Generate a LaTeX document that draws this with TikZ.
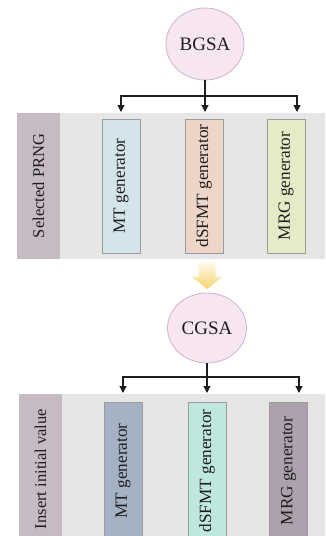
\documentclass[tikz,border=0pt]{standalone}
\usepackage{fontspec}
\setmainfont{Liberation Serif}
\usetikzlibrary{shapes.geometric,arrows.meta}
\definecolor{bandgray}{HTML}{E6E6E6}
\definecolor{labfill}{HTML}{C6BAC3}
\definecolor{circfill}{HTML}{F7E6F2}
\definecolor{circline}{HTML}{C9B8C4}
\definecolor{boxline}{HTML}{9C9C9C}
\definecolor{mtA}{HTML}{D3E5EB}
\definecolor{dsA}{HTML}{EDD5C8}
\definecolor{mrgA}{HTML}{E4EBC6}
\definecolor{mtB}{HTML}{A4B2C4}
\definecolor{dsB}{HTML}{BEE7DD}
\definecolor{mrgB}{HTML}{ADA1AE}
\definecolor{arrowyellow}{HTML}{F8D36C}
\definecolor{ink}{HTML}{1E1E1E}
\begin{document}
\begin{tikzpicture}[x=1pt,y=-1pt,
  algo/.style={ellipse,draw=circline,line width=0.8pt,fill=circfill,
    minimum width=78pt,minimum height=72pt,inner sep=0pt,
    font=\fontsize{19}{21}\selectfont,text=ink},
  band/.style={fill=bandgray,inner sep=0pt,anchor=north west},
  label/.style={fill=labfill,inner sep=0pt,rotate=90,
    minimum height=43pt,font=\fontsize{16.5}{18}\selectfont,text=ink},
  gen/.style={draw=boxline,line width=0.8pt,inner sep=0pt,rotate=90,
    minimum width=134pt,minimum height=38pt,
    font=\fontsize{17.2}{19}\selectfont,text=ink},
  conn/.style={draw=ink,line width=1.1pt},
  arr/.style={conn,-{Triangle[length=7pt,width=7pt]}}]
\useasboundingbox (0,0) rectangle (325,536);
\clip (0,0) rectangle (325,536);

% ---- upper stage: BGSA ----
\node[algo] (bgsa) at (205,44) {BGSA};
\node[band,minimum width=313pt,minimum height=146pt] (band1) at (17,113) {};
\node[label,minimum width=146pt] (lab1) at (38.5,186) {Selected PRNG};
\node[gen,fill=mtA] (mt1) at (121,186) {MT generator};
\node[gen,fill=dsA] (ds1) at (204,186) {dSFMT generator};
\node[gen,fill=mrgA] (mrg1) at (286,186) {MRG generator};

\coordinate (j1) at (205,96);
\coordinate (a1) at (121,112);
\coordinate (b1) at (205,112);
\coordinate (c1) at (297,112);
\draw[conn] (bgsa.south) -- (j1);
\draw[arr] (j1) -| (a1);
\draw[arr] (j1) -- (b1);
\draw[arr] (j1) -| (c1);

% ---- transition arrow ----
\shade[top color=arrowyellow!12,bottom color=arrowyellow]
  (198.5,262) -- (215.5,262) -- (215.5,277) -- (222,277) -- (207,289)
  -- (192,277) -- (198.5,277) -- cycle;

% ---- lower stage: CGSA ----
\node[algo,minimum width=79pt,minimum height=70pt] (cgsa) at (207,328) {CGSA};
\node[band,minimum width=311pt,minimum height=150pt] (band2) at (19,394) {};
\node[label,minimum width=150pt] (lab2) at (40.5,469) {Insert initial value};
\node[gen,fill=mtB,minimum width=138pt] (mt2) at (123,471) {MT generator};
\node[gen,fill=dsB,minimum width=138pt] (ds2) at (207,471) {dSFMT generator};
\node[gen,fill=mrgB,minimum width=138pt] (mrg2) at (288.5,471) {MRG generator};

\coordinate (j2) at (207,377);
\coordinate (a2) at (123,393);
\coordinate (b2) at (207,393);
\coordinate (c2) at (299,393);
\draw[conn] (cgsa.south) -- (j2);
\draw[arr] (j2) -| (a2);
\draw[arr] (j2) -- (b2);
\draw[arr] (j2) -| (c2);
\end{tikzpicture}
\end{document}
